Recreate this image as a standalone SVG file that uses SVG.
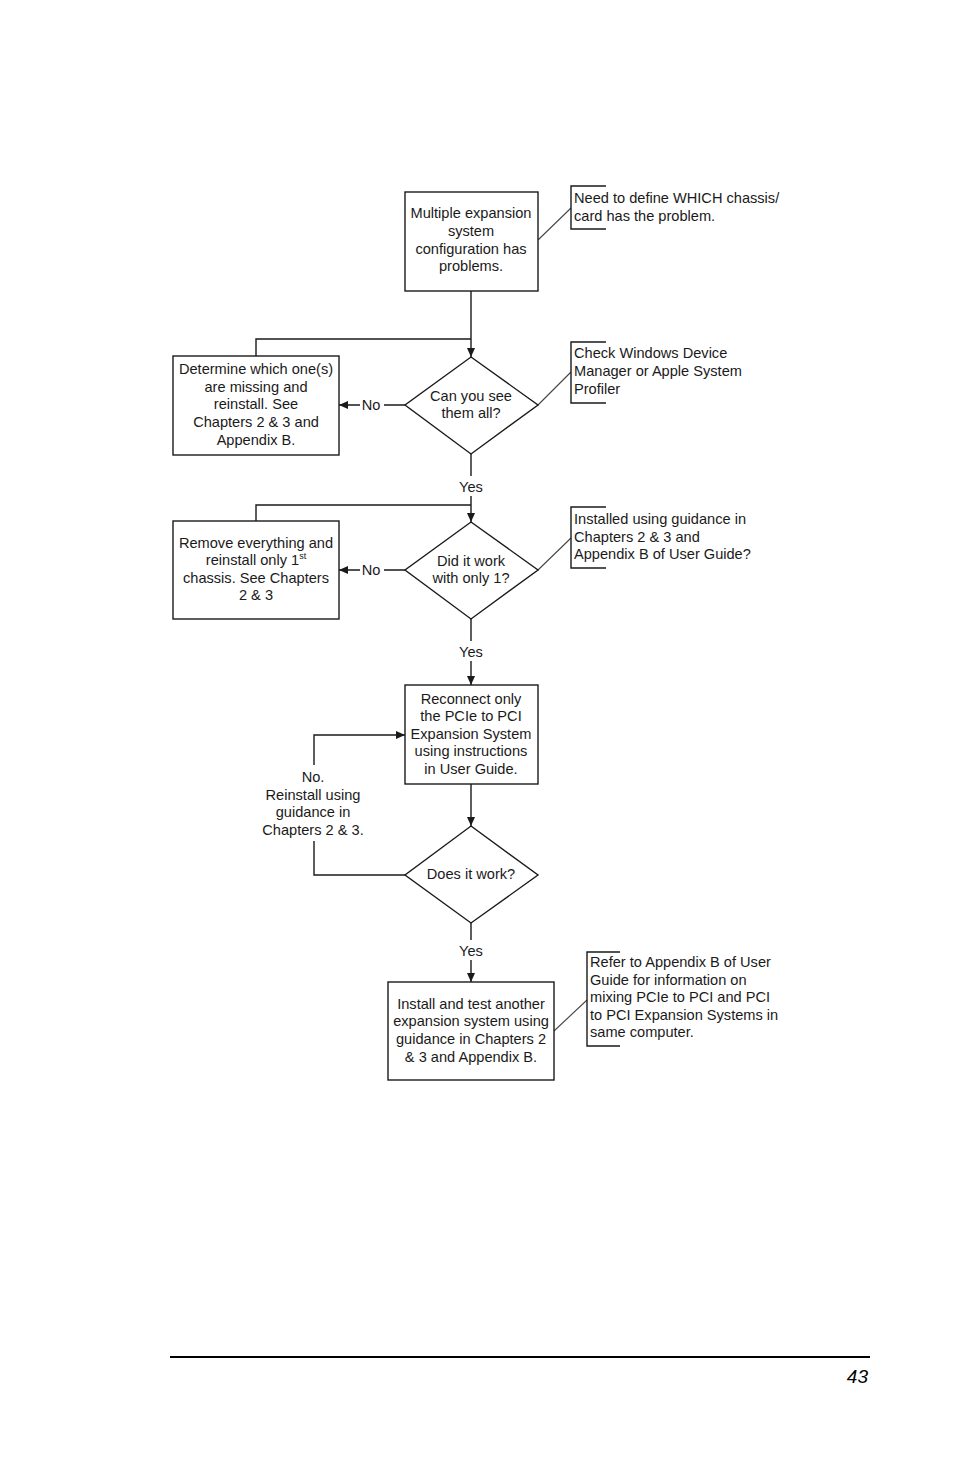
<svg xmlns="http://www.w3.org/2000/svg" width="954" height="1475" viewBox="0 0 954 1475">
<defs>
<marker id="ah" viewBox="0 0 10 10" refX="10" refY="5" markerWidth="9" markerHeight="8" preserveAspectRatio="none" markerUnits="userSpaceOnUse" orient="auto">
<path d="M0,0 L10,5 L0,10 z" fill="#1a1a1a"/>
</marker>
</defs>
<style>
.s{fill:#fff;stroke:#1a1a1a;stroke-width:1.4}
.c{fill:none;stroke:#1a1a1a;stroke-width:1.4}
.cl{fill:none;stroke:#444;stroke-width:1.1}
text{font-family:"Liberation Sans",Arial,sans-serif;font-size:14.6px;fill:#1a1a1a}
.m{text-anchor:middle}
.pg{font-size:19px;font-style:italic;text-anchor:end;fill:#000}
</style>
<rect width="954" height="1475" fill="#fff"/>
<g id="connectors">
<path class="c" d="M471,291 V357" marker-end="url(#ah)"/>
<path class="c" d="M256,356 V339 H471"/>
<path class="c" d="M405,405 H384 M360,405 H339" marker-end="url(#ah)"/>
<path class="c" d="M471,454 V476 M471,496 V522" marker-end="url(#ah)"/>
<path class="c" d="M256,521 V505 H471"/>
<path class="c" d="M405,570 H384 M360,570 H339" marker-end="url(#ah)"/>
<path class="c" d="M471,619 V641 M471,661 V685" marker-end="url(#ah)"/>
<path class="c" d="M471,784 V826" marker-end="url(#ah)"/>
<path class="c" d="M405,875 H314 V841 M314,765 V735 H405" marker-end="url(#ah)"/>
<path class="c" d="M471,923 V940 M471,960 V982" marker-end="url(#ah)"/>
<path class="cl" d="M538,240 L571,208"/>
<path class="cl" d="M538,405 L571,372"/>
<path class="cl" d="M538,570 L571,538"/>
<path class="cl" d="M554,1031 L587,1000"/>
</g>
<g id="labels">
<text class="m" x="371" y="410">No</text>
<text class="m" x="471" y="492">Yes</text>
<text class="m" x="371" y="575">No</text>
<text class="m" x="471" y="657">Yes</text>
<text class="m" x="471" y="956">Yes</text>
<text class="m" x="313" y="782">No.</text>
<text class="m" x="313" y="800">Reinstall using</text>
<text class="m" x="313" y="817">guidance in</text>
<text class="m" x="313" y="835">Chapters 2 &amp; 3.</text>
</g>
<g id="start">
<rect class="s" x="405" y="192" width="133" height="99"/>
<text class="m" x="471" y="218">Multiple expansion</text>
<text class="m" x="471" y="236">system</text>
<text class="m" x="471" y="254">configuration has</text>
<text class="m" x="471" y="271">problems.</text>
</g>
<g id="note1">
<path class="c" d="M606,186 H571 V229 H606"/>
<text x="574" y="203">Need to define WHICH chassis/</text>
<text x="574" y="221">card has the problem.</text>
</g>
<g id="q1">
<polygon class="s" points="471,357 538,405 471,454 405,405"/>
<text class="m" x="471" y="401">Can you see</text>
<text class="m" x="471" y="418">them all?</text>
</g>
<g id="fix1">
<rect class="s" x="173" y="356" width="166" height="99"/>
<text class="m" x="256" y="374">Determine which one(s)</text>
<text class="m" x="256" y="392">are missing and</text>
<text class="m" x="256" y="409">reinstall. See</text>
<text class="m" x="256" y="427">Chapters 2 &amp; 3 and</text>
<text class="m" x="256" y="445">Appendix B.</text>
</g>
<g id="note2">
<path class="c" d="M606,342 H571 V403 H606"/>
<text x="574" y="358">Check Windows Device</text>
<text x="574" y="376">Manager or Apple System</text>
<text x="574" y="394">Profiler</text>
</g>
<g id="q2">
<polygon class="s" points="471,522 538,570 471,619 405,570"/>
<text class="m" x="471" y="566">Did it work</text>
<text class="m" x="471" y="583">with only 1?</text>
</g>
<g id="fix2">
<rect class="s" x="173" y="521" width="166" height="98"/>
<text class="m" x="256" y="548">Remove everything and</text>
<text class="m" x="256" y="565">reinstall only 1<tspan font-size="9" dy="-6">st</tspan></text>
<text class="m" x="256" y="583">chassis. See Chapters</text>
<text class="m" x="256" y="600">2 &amp; 3</text>
</g>
<g id="note3">
<path class="c" d="M606,507 H571 V568 H606"/>
<text x="574" y="524">Installed using guidance in</text>
<text x="574" y="542">Chapters 2 &amp; 3 and</text>
<text x="574" y="559">Appendix B of User Guide?</text>
</g>
<g id="reconnect">
<rect class="s" x="405" y="685" width="133" height="99"/>
<text class="m" x="471" y="704">Reconnect only</text>
<text class="m" x="471" y="721">the PCIe to PCI</text>
<text class="m" x="471" y="739">Expansion System</text>
<text class="m" x="471" y="756">using instructions</text>
<text class="m" x="471" y="774">in User Guide.</text>
</g>
<g id="q3">
<polygon class="s" points="471,826 538,875 471,923 405,875"/>
<text class="m" x="471" y="879">Does it work?</text>
</g>
<g id="install">
<rect class="s" x="388" y="982" width="166" height="98"/>
<text class="m" x="471" y="1009">Install and test another</text>
<text class="m" x="471" y="1026">expansion system using</text>
<text class="m" x="471" y="1044">guidance in Chapters 2</text>
<text class="m" x="471" y="1062">&amp; 3 and Appendix B.</text>
</g>
<g id="note4">
<path class="c" d="M620,952 H587 V1046 H620"/>
<text x="590" y="967">Refer to Appendix B of User</text>
<text x="590" y="985">Guide for information on</text>
<text x="590" y="1002">mixing PCIe to PCI and PCI</text>
<text x="590" y="1020">to PCI Expansion Systems in</text>
<text x="590" y="1037">same computer.</text>
</g>
<g id="footer">
<line x1="170" y1="1357" x2="870" y2="1357" stroke="#000" stroke-width="2"/>
<text class="pg" x="868" y="1383">43</text>
</g>
</svg>
